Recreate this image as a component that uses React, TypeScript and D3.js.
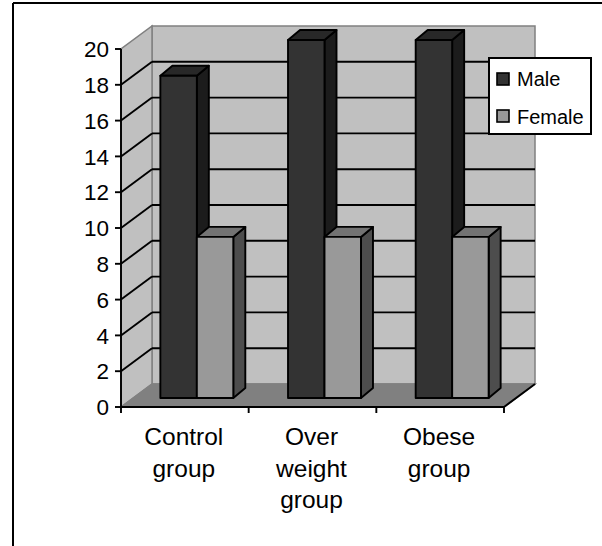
import React from "react";
import * as d3 from "d3";

const categories: string[][] = [["Control", "group"], ["Over", "weight", "group"], ["Obese", "group"]];
const categoryKeys = ["Control group", "Over weight group", "Obese group"];
const seriesNames = ["Male", "Female"];
const maleValues = [18, 20, 20];
const femaleValues = [9, 9, 9];
const yTicks = [0, 2, 4, 6, 8, 10, 12, 14, 16, 18, 20];

const FRONT = { face: ["#333333", "#999999"], side: ["#1c1c1c", "#4d4d4d"], top: ["#282828", "#737373"] };

export default function App() {
  const W = 602, H = 546;
  const x0 = 121, x1 = 504, yBase = 407, yTop = 49;
  const wall = { dx: 31, dy: -23 };
  const barOff = { dx: 12, dy: -9 };
  const barDepth = { dx: 12, dy: -10 };

  const y = d3.scaleLinear().domain([0, 20]).range([yBase, yTop]);
  const xCat = d3.scaleBand<string>().domain(categoryKeys).range([x0, x1]).padding(0);
  const xSer = d3.scaleBand<string>().domain(seriesNames).range([0, xCat.bandwidth()]).paddingInner(0).paddingOuter(0.75);
  const data = [maleValues, femaleValues];

  const pts = (a: number[][]) => a.map((p) => p.join(",")).join(" ");
  const font = "'Liberation Sans', Arial, sans-serif";
  const sw = 1.9;

  const bars: React.ReactNode[] = [];
  categoryKeys.forEach((c, ci) => {
    seriesNames.forEach((s, si) => {
      const v = data[si][ci];
      const bx = (xCat(c) as number) + (xSer(s) as number) + barOff.dx;
      const w = xSer.bandwidth();
      const yt = y(v) + barOff.dy;
      const yb = y(0) + barOff.dy;
      const ddx = barDepth.dx, ddy = barDepth.dy;
      bars.push(
        <g key={c + s} stroke="#000" strokeWidth={sw} strokeLinejoin="round">
          <polygon points={pts([[bx + w, yb], [bx + w, yt], [bx + w + ddx, yt + ddy], [bx + w + ddx, yb + ddy]])} fill={FRONT.side[si]} />
          <polygon points={pts([[bx, yt], [bx + ddx, yt + ddy], [bx + w + ddx, yt + ddy], [bx + w, yt]])} fill={FRONT.top[si]} />
          <rect x={bx} y={yt} width={w} height={yb - yt} fill={FRONT.face[si]} />
        </g>
      );
    });
  });

  return (
    <svg width={W} height={H} style={{ position: "absolute", left: 0, top: 0, background: "#fff" }}>
      {/* outer frame */}
      <line x1={13} y1={3} x2={W} y2={3} stroke="#000" strokeWidth={2} />
      <line x1={13} y1={3} x2={13} y2={H} stroke="#000" strokeWidth={2} />

      {/* back wall */}
      <rect x={x0 + wall.dx} y={yTop + wall.dy} width={x1 - x0} height={yBase - yTop} fill="#c0c0c0" stroke="#808080" strokeWidth={1.5} />
      {/* left wall */}
      <polygon points={pts([[x0, yBase], [x0, yTop], [x0 + wall.dx, yTop + wall.dy], [x0 + wall.dx, yBase + wall.dy]])} fill="#c0c0c0" stroke="#808080" strokeWidth={1.5} />
      {/* floor */}
      <polygon points={pts([[x0, yBase], [x0 + wall.dx, yBase + wall.dy], [x1 + wall.dx, yBase + wall.dy], [x1, yBase]])} fill="#808080" stroke="#808080" strokeWidth={1.5} />
      <line x1={x1} y1={yBase} x2={x1 + wall.dx} y2={yBase + wall.dy} stroke="#000" strokeWidth={sw} />

      {/* gridlines */}
      {yTicks.filter((t) => t > 0 && t < 20).map((t) => (
        <g key={t} stroke="#000" strokeWidth={sw}>
          <line x1={x0} y1={y(t)} x2={x0 + wall.dx} y2={y(t) + wall.dy} />
          <line x1={x0 + wall.dx} y1={y(t) + wall.dy} x2={x1 + wall.dx} y2={y(t) + wall.dy} />
        </g>
      ))}

      {bars}

      {/* axes */}
      <line x1={x0} y1={yTop} x2={x0} y2={yBase} stroke="#000" strokeWidth={sw} />
      <line x1={x0} y1={yBase} x2={x1} y2={yBase} stroke="#000" strokeWidth={sw} />
      {yTicks.map((t) => (
        <g key={"yt" + t}>
          <line x1={x0 - 6} y1={y(t)} x2={x0} y2={y(t)} stroke="#000" strokeWidth={sw} />
          <text x={x0 - 12} y={y(t)} dy="0.36em" textAnchor="end" fontFamily={font} fontSize={22.5} fill="#000">{t}</text>
        </g>
      ))}
      {[...categoryKeys.map((c) => xCat(c) as number), x1].map((xx, i) => (
        <line key={"xt" + i} x1={xx} y1={yBase} x2={xx} y2={yBase + 6} stroke="#000" strokeWidth={sw} />
      ))}
      {categoryKeys.map((c, ci) => {
        const cx = (xCat(c) as number) + xCat.bandwidth() / 2 - 1;
        return (
          <text key={"cl" + c} textAnchor="middle" fontFamily={font} fontSize={24.5} fill="#000">
            {categories[ci].map((line, li) => (
              <tspan key={li} x={cx} y={445 + li * 31.7}>{line}</tspan>
            ))}
          </text>
        );
      })}

      {/* legend */}
      <rect x={489} y={58} width={102} height={76} fill="#fff" stroke="#000" strokeWidth={2} />
      {seriesNames.map((s, si) => (
        <g key={"lg" + s}>
          <rect x={497} y={73 + si * 37} width={12} height={12} fill={FRONT.face[si]} stroke="#000" strokeWidth={1.6} />
          <text x={517} y={86 + si * 38} fontFamily={font} fontSize={20} fill="#000">{s}</text>
        </g>
      ))}
    </svg>
  );
}
